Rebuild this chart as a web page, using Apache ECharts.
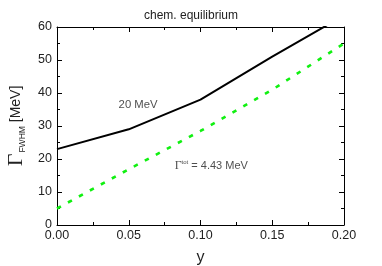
<!DOCTYPE html>
<html><head><meta charset="utf-8">
<script src="https://cdn.jsdelivr.net/npm/echarts@6/dist/echarts.min.js"></script>
<style>html,body{margin:0;padding:0;background:#fff}#c{width:382px;height:266px}</style>
</head><body><div id="c"></div>
<script>
const xTicks = [0, 0.05, 0.10, 0.15, 0.20];
const yTicks = [0, 10, 20, 30, 40, 50, 60];
const xs = [0, 0.05, 0.10, 0.15, 0.20];
const black20MeV = [23, 29, 38, 51, 63.5];
const green443 = [5, 16.9, 28.5, 41, 55];
const labels = [
  {x: 0.0565, y: 36.3, text: '20 MeV'},
  {x: 0.1075, y: 18.0, text: '{g|Γ}{sup|tot}{t| = 4.43 MeV}'}
];
const F = 'Liberation Sans, Arial, sans-serif';
const S = 'Liberation Serif, serif';
const chart = echarts.init(document.getElementById('c'));
const axBase = {
  min: 0, axisLine: {show: true, onZero: false, lineStyle: {color: '#000', width: 1}},
  axisTick: {show: true, inside: true, length: 5, lineStyle: {color: '#000'}},
  minorTick: {show: true, splitNumber: 2, length: 3, lineStyle: {color: '#000'}},
  splitLine: {show: false}
};
chart.setOption({
  animation: false,
  title: {text: 'chem. equilibrium', left: 'center', top: 5,
    textStyle: {fontFamily: F, fontWeight: 'normal', fontSize: 12, color: '#222'}},
  grid: {left: 57, right: 38, top: 27, bottom: 41, outerBoundsMode: 'none', containLabel: false},
  xAxis: [
    Object.assign({}, axBase, {type: 'value', max: 0.2, interval: 0.05,
      axisLabel: {fontFamily: F, fontSize: 12.5, color: '#222', margin: 4,
        formatter: v => v.toFixed(2)},
      name: 'y', nameLocation: 'middle', nameGap: 25,
      nameTextStyle: {fontFamily: F, fontSize: 16, color: '#222'}}),
    Object.assign({}, axBase, {type: 'value', max: 0.2, interval: 0.05, position: 'top',
      axisLabel: {show: false}})
  ],
  yAxis: [
    Object.assign({}, axBase, {type: 'value', max: 60, interval: 10,
      axisLabel: {fontFamily: F, fontSize: 12.5, color: '#222', margin: 5},
      name: '{g|Γ}{s|FWHM}{n| [MeV]}', nameLocation: 'middle', nameGap: 22, nameRotate: 90,
      nameTextStyle: {color: '#222', rich: {
        g: {fontFamily: S, fontSize: 22, lineHeight: 22, color: '#222'},
        s: {fontFamily: F, fontSize: 8.5, lineHeight: 9, color: '#222', verticalAlign: 'bottom', padding: [0, 0, 0, 1]},
        n: {fontFamily: F, fontSize: 14, color: '#222', verticalAlign: 'middle'}
      }}}),
    Object.assign({}, axBase, {type: 'value', max: 60, interval: 10, position: 'right',
      axisLabel: {show: false}})
  ],
  series: [
    {type: 'line', data: xs.map((x, i) => [x, black20MeV[i]]), symbol: 'none', clip: true,
      lineStyle: {color: '#000', width: 2}},
    {type: 'line', data: xs.map((x, i) => [x, green443[i]]), symbol: 'none', clip: true,
      lineStyle: {color: '#11f011', width: 2.6, type: [4.5, 8]}},
    {type: 'scatter', symbolSize: 0, data: labels.map(l => [l.x, l.y]),
      label: {show: true, position: 'inside', formatter: p => labels[p.dataIndex].text,
        fontFamily: F, fontSize: 11.3, color: '#222',
        rich: {
          g: {fontFamily: S, fontSize: 12, color: '#222'},
          sup: {fontFamily: F, fontSize: 6, color: '#222', padding: [0, 0, 6, 0]},
          t: {fontFamily: F, fontSize: 11, color: '#222'}
        }}}
  ]
});
</script></body></html>
